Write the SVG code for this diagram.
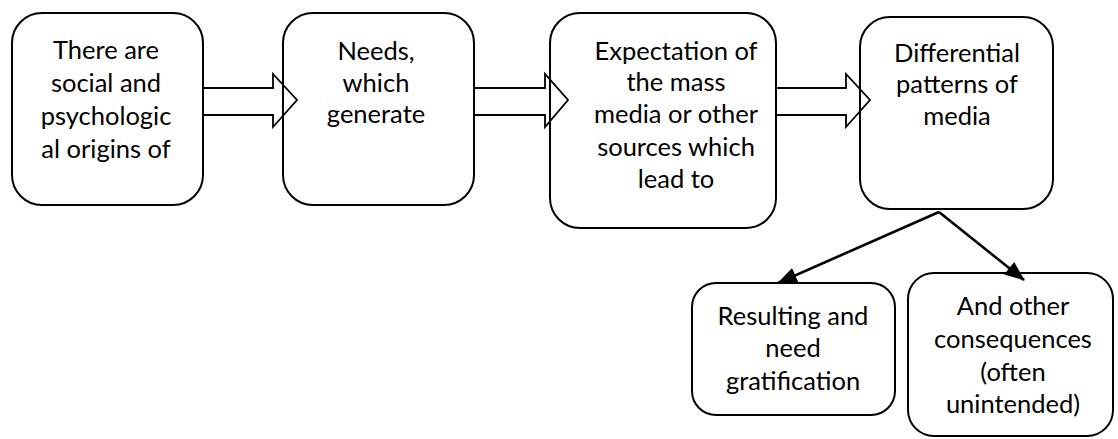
<svg xmlns="http://www.w3.org/2000/svg" width="1118" height="439" viewBox="0 0 1118 439">
<defs>
<style>
.box{fill:none;stroke:#000;stroke-width:2}
.blk{fill:none;stroke:#000;stroke-width:1.8;stroke-linejoin:miter}
.con{stroke:#000;stroke-width:2.6;fill:none}
text{font-family:Lato,"Open Sans","Liberation Sans",sans-serif;font-size:25.5px;fill:#000;text-anchor:middle}
</style>
<marker id="ah2" viewBox="0 0 20 16" refX="19" refY="8" markerWidth="20" markerHeight="16" markerUnits="userSpaceOnUse" orient="auto">
<path d="M0,0 L20,8 L0,16 z" fill="#000"/>
</marker>
</defs>
<rect width="1118" height="439" fill="#fff"/>
<g id="connectors">
<path class="blk" d="M203,88 H273 V74 L297,100 L273,127 V115 H203"/>
<path class="blk" d="M474,88 H545 V74 L568,100 L545,127 V115 H474"/>
<path class="blk" d="M776,88 H846 V74 L870,100 L846,127 V115 H776"/>
<line class="con" x1="939" y1="212" x2="778" y2="283" marker-end="url(#ah2)"/>
<line class="con" x1="939" y1="212" x2="1024" y2="280" marker-end="url(#ah2)"/>
</g>
<g id="n1">
<rect class="box" x="12" y="13" width="191" height="192" rx="30"/>
<text x="106" y="59">There are</text>
<text x="106" y="92">social and</text>
<text x="106" y="125">psychologic</text>
<text x="106" y="158">al origins of</text>
</g>
<g id="n2">
<rect class="box" x="283" y="13" width="191" height="192" rx="30"/>
<text x="376" y="60">Needs,</text>
<text x="376" y="92">which</text>
<text x="376" y="123">generate</text>
</g>
<g id="n3">
<rect class="box" x="550" y="13" width="226" height="215" rx="30"/>
<text x="676" y="60">Expectation of</text>
<text x="676" y="91">the mass</text>
<text x="676" y="123">media or other</text>
<text x="676" y="156">sources which</text>
<text x="676" y="188">lead to</text>
</g>
<g id="n4">
<rect class="box" x="860" y="17" width="193" height="192" rx="30"/>
<text x="957" y="62">Differential</text>
<text x="957" y="93">patterns of</text>
<text x="957" y="125">media</text>
</g>
<g id="n5">
<rect class="box" x="692" y="283" width="203" height="132" rx="24"/>
<text x="793" y="325">Resulting and</text>
<text x="793" y="357">need</text>
<text x="793" y="390">gratification</text>
</g>
<g id="n6">
<rect class="box" x="908" y="273" width="205" height="163" rx="26"/>
<text x="1013" y="315">And other</text>
<text x="1013" y="348">consequences</text>
<text x="1013" y="381">(often</text>
<text x="1013" y="413">unintended)</text>
</g>
</svg>
